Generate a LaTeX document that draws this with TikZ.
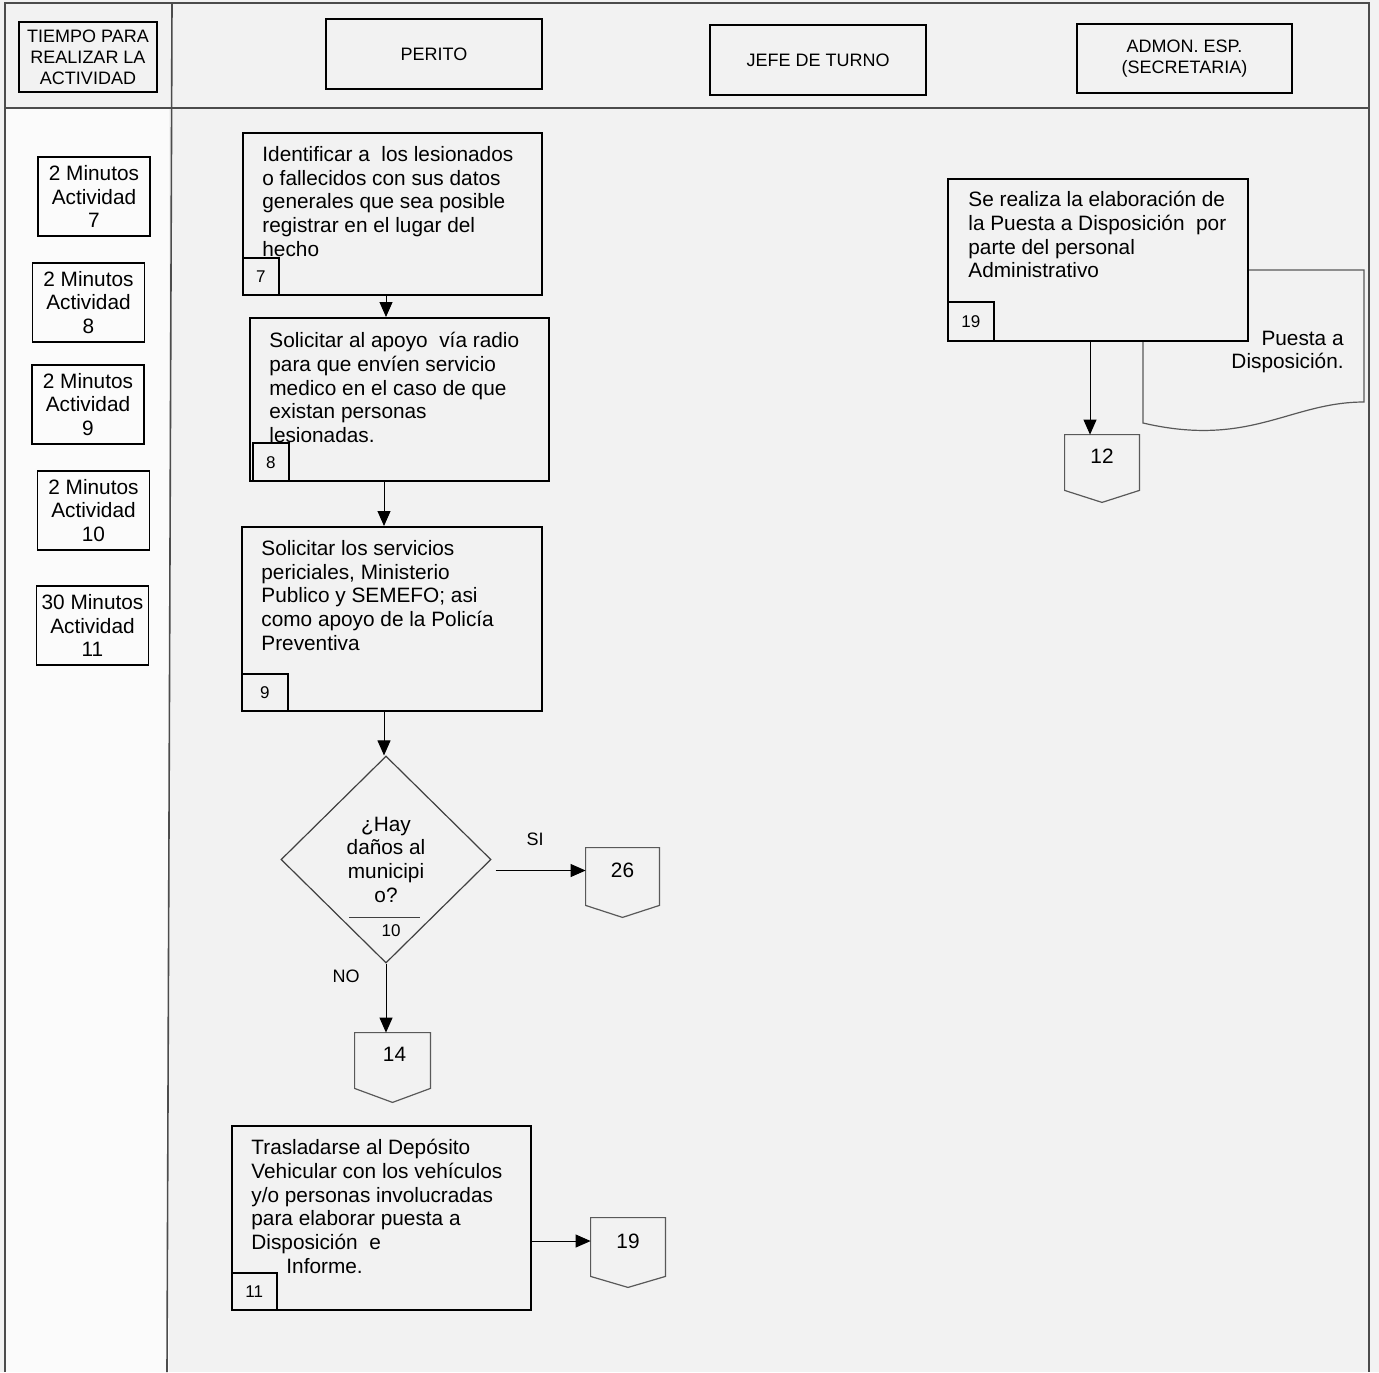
\documentclass[tikz,border=0pt]{standalone}
\usepackage{fontspec}
\setmainfont{Liberation Sans}
\usepackage{tikz}
\usetikzlibrary{arrows.meta,positioning,calc,shapes.geometric}
\definecolor{bg}{gray}{0.95}
\definecolor{colbg}{gray}{0.985}

\begin{document}
\begin{tikzpicture}[
  x=0.5pt,y=-0.5pt,
  font=\fontsize{10.4pt}{11.85pt}\selectfont,
  frame/.style={draw=black!70,line width=0.8pt},
  hdr/.style={draw,line width=1pt,inner sep=0,align=center,minimum width=108pt,minimum height=35pt,font=\fontsize{9pt}{10.5pt}\selectfont},
  tbox/.style={draw,line width=0.8pt,inner sep=0,align=center,minimum width=56pt,minimum height=39.5pt},
  proc/.style={draw,line width=1pt,fill=bg,inner sep=0,minimum width=149.5pt},
  txt/.style={inner sep=0,align=left},
  num/.style={draw,line width=0.8pt,fill=bg,inner sep=0,minimum width=18pt,minimum height=18.5pt,font=\fontsize{8.5pt}{9pt}\selectfont},
  conn/.style={inner sep=0,minimum width=37pt,minimum height=28pt},
  connline/.style={draw=black!65,line width=0.6pt,fill=bg},
  decision/.style={draw=black!75,line width=0.6pt,diamond,inner sep=0,align=center,minimum width=105pt,minimum height=103.5pt},
  flow/.style={-{Triangle[length=7.5pt,width=6.5pt]},line width=0.5pt},
  lbl/.style={font=\fontsize{9pt}{10pt}\selectfont},
]
\useasboundingbox (0,0) rectangle (1379,1372);
\fill[bg] (0,0) rectangle (1379,1372);
\fill[colbg] (6,109) rectangle (169,1372);

% frame of the table
\draw[frame] (5,1372) -- (5,3) -- (1369,3) -- (1369,1372);
\draw[frame] (5,108) -- (1369,108);
\draw[frame] (172,3) -- (167,1372);

% headers
\node[hdr,minimum width=69pt] (tiempo) at (88,57) {TIEMPO PARA\\REALIZAR LA\\ACTIVIDAD};
\node[hdr] (perito) at (434,54) {PERITO};
\node[hdr] (jefe) at (818,60) {JEFE DE TURNO};
\node[hdr,minimum width=107.5pt,minimum height=34.5pt] (admon) at (1184.5,58.5) {ADMON. ESP.\\(SECRETARIA)};

% times
\node[tbox] (t7) at (94,196.5) {2 Minutos\\Actividad\\7};
\node[tbox] (t8) at (88.5,302.5) {2 Minutos\\Actividad\\8};
\node[tbox] (t9) at (88,404.5) {2 Minutos\\Actividad\\9};
\node[tbox] (t10) at (93.5,510.5) {2 Minutos\\Actividad\\10};
\node[tbox] (t11) at (92.5,625.5) {30 Minutos\\Actividad\\11};

% Puesta a Disposicion (document, behind box 19)
\draw[connline] (1143,270) -- (1364,270) -- (1364,402)
  .. controls (1290,402) and (1250,448) .. (1143,423) -- cycle;
\node[txt,align=right,anchor=east] (pd) at (1344,352) {Puesta a\\Disposición.};

% activities
\node[proc,minimum height=81pt] (p7) at (392.5,214) {};
\node[txt,below right=7pt and 10pt of p7.north west] (p7t) {Identificar a\ \ los lesionados\\o fallecidos con sus datos\\generales que sea posible\\registrar en el lugar del\\hecho};
\node[num,above right=0pt and 0pt of p7.south west] (n7) {7};

\node[proc,minimum height=81.5pt] (p8) at (399.5,399.5) {};
\node[txt,below right=7.5pt and 10pt of p8.north west] (p8t) {Solicitar al apoyo\ \ vía radio\\para que envíen servicio\\medico en el caso de que\\existan personas\\lesionadas.};
\node[num,minimum height=19pt,above right=0pt and 1.5pt of p8.south west] (n8) {8};

\node[proc,minimum width=150pt,minimum height=92pt] (p9) at (392,619) {};
\node[txt,below right=7pt and 10pt of p9.north west] (p9t) {Solicitar los servicios\\periciales, Ministerio\\Publico y SEMEFO; asi\\como apoyo de la Policía\\Preventiva};
\node[num,minimum width=23pt,above right=0pt and 0pt of p9.south west] (n9) {9};

\node[decision] (dec) at (386,859.5) {¿Hay\\daños al\\municipi\\o?};
\draw[black!75,line width=0.5pt] (349,917) -- (420,917);
\node[font=\fontsize{8.5pt}{9pt}\selectfont] (n10) at (391,931) {10};

\node[proc,minimum height=92pt] (p11) at (381.5,1218) {};
\node[txt,below right=7pt and 10pt of p11.north west] (p11t) {Trasladarse al Depósito\\Vehicular con los vehículos\\y/o personas involucradas\\para elaborar puesta a\\Disposición\ \ e\\\hspace*{17.5pt}Informe.};
\node[num,minimum width=22.5pt,above right=0pt and 0pt of p11.south west] (n11) {11};

\node[proc,minimum width=150pt,minimum height=81pt] (p19) at (1098,260) {};
\node[txt,below right=6.5pt and 10.5pt of p19.north west] (p19t) {Se realiza la elaboración de\\la Puesta a Disposición\ \ por\\parte del personal\\Administrativo};
\node[num,minimum width=23pt,minimum height=19.5pt,above right=0pt and 0pt of p19.south west] (n19) {19};

% off-page connectors
\node[conn,minimum width=36.5pt,minimum height=28.5pt] (c26) at (622.5,876.5) {};
\node[conn,minimum width=37.5pt,minimum height=27.5pt] (c14) at (392.5,1060.5) {};
\node[conn,minimum height=27.5pt] (c12) at (1102,462.5) {};
\node[conn,minimum height=29pt] (c19) at (628,1247) {};
\draw[connline] (c26.north west) -- (c26.north east) -- (c26.south east) -- ([yshift=-6pt]c26.south) -- (c26.south west) -- cycle;
\draw[connline] (c14.north west) -- (c14.north east) -- (c14.south east) -- ([yshift=-7pt]c14.south) -- (c14.south west) -- cycle;
\draw[connline] (c12.north west) -- (c12.north east) -- (c12.south east) -- ([yshift=-6pt]c12.south) -- (c12.south west) -- cycle;
\draw[connline] (c19.north west) -- (c19.north east) -- (c19.south east) -- ([yshift=-5.5pt]c19.south) -- (c19.south west) -- cycle;
\node[yshift=3pt] (c26t) at (c26) {26};
\node[yshift=3pt,xshift=1pt] (c14t) at (c14) {14};
\node[yshift=3pt] (c12t) at (c12) {12};
\node[yshift=3pt] (c19t) at (c19) {19};

% flow
\draw[flow] (p7.south -| dec.north) -- (p8.north -| dec.north);
\draw[flow] ([xshift=-1pt]p8.south -| dec.north) -- ([xshift=-1pt]p9.north -| dec.north);
\draw[flow] ([xshift=-1pt]p9.south -| dec.north) -- ([xshift=-1pt]dec.north);
\draw[flow] (dec.south) -- (dec.south |- c14.north);
\draw[flow] ([xshift=2pt,yshift=3pt]c26.west -| dec.east) -- ([yshift=3pt]c26.west);
\draw[flow] ([yshift=3pt]c19.west -| p11.east) -- ([yshift=3pt]c19.west);
\draw[flow] ([xshift=-6pt]c12.north |- p19.south) -- ([xshift=-6pt]c12.north);

\node[lbl] (si) at (535,839) {SI};
\node[lbl] (no) at (346,976) {NO};
\end{tikzpicture}
\end{document}
